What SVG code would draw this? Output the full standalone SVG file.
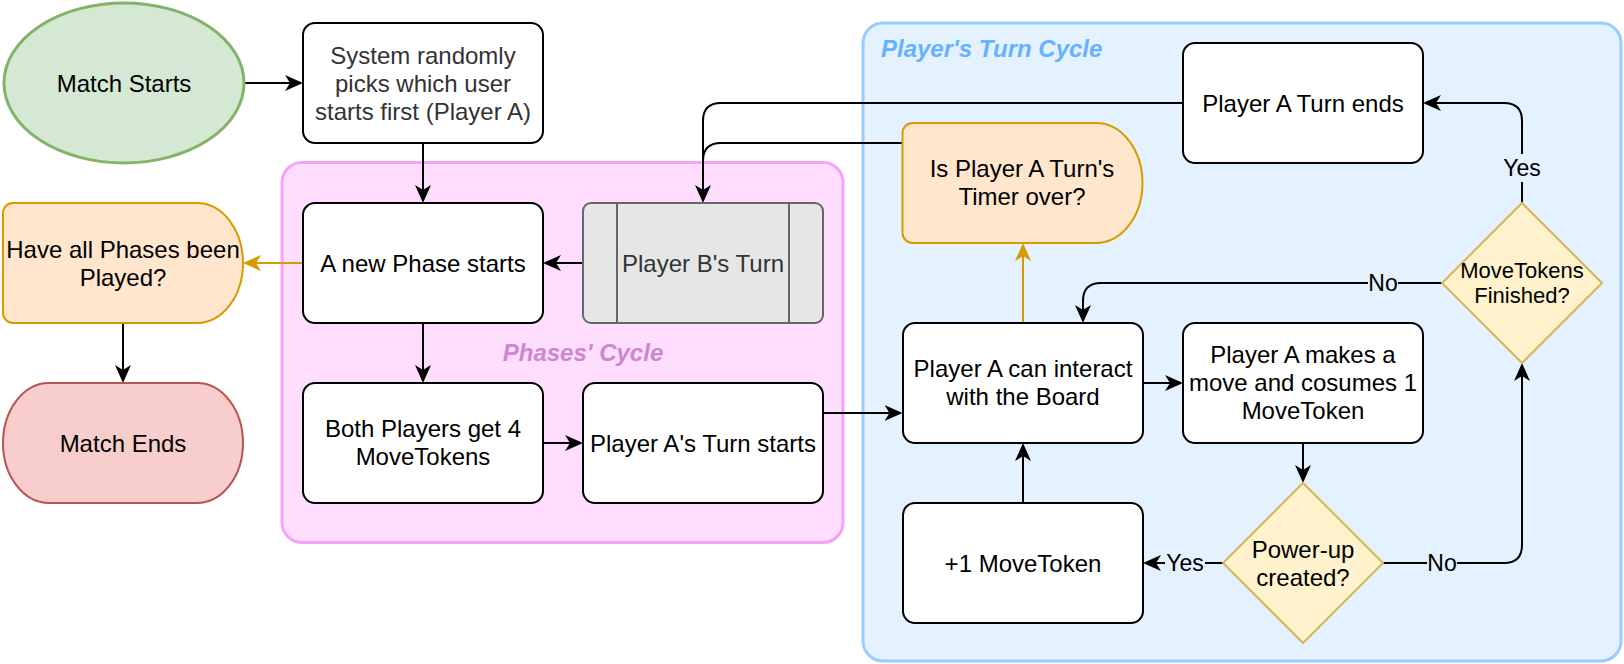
<svg xmlns="http://www.w3.org/2000/svg" width="1624" height="664" viewBox="0 0 1624 664">
<defs>
<style>
text{font-family:"Liberation Sans",Arial,Helvetica,sans-serif;font-size:24px;text-anchor:middle;fill:#000}
.box{fill:#fff;stroke:#000;stroke-width:2}
.c{fill:none;stroke:#000;stroke-width:2}
.co{fill:none;stroke:#d79b00;stroke-width:2}
.lbl{font-size:23px}
.lb{fill:#e4f1fe;stroke:none}
.dia{fill:#fff2cc;stroke:#d6b656;stroke-width:2}
.dly{fill:#ffe6cc;stroke:#d79b00;stroke-width:2}
.ttl{font-weight:bold;font-style:italic}
</style>
<marker id="ah" viewBox="0 -10 20 20" refX="5" refY="0" markerWidth="20" markerHeight="20" markerUnits="userSpaceOnUse" orient="auto"><path d="M18,0 L0,-8 L5,0 L0,8 Z" fill="#000"/></marker>
<marker id="aho" viewBox="0 -10 20 20" refX="5" refY="0" markerWidth="20" markerHeight="20" markerUnits="userSpaceOnUse" orient="auto"><path d="M18,0 L0,-8 L5,0 L0,8 Z" fill="#d79b00"/></marker>
</defs>
<rect x="0" y="0" width="1624" height="664" fill="#fff"/>

<g id="phases-cycle">
<rect x="282" y="162.5" width="561" height="380" rx="20" fill="#ffddff" stroke="#f5a4f5" stroke-width="3"/>
<text class="ttl" x="583" y="361" style="fill:#cc88cc">Phases' Cycle</text>
</g>
<g id="turn-cycle">
<rect x="863" y="23" width="758" height="638" rx="20" fill="#e4f1fe" stroke="#99ccff" stroke-width="3"/>
<text class="ttl" x="881" y="57" style="text-anchor:start;fill:#66b2ff">Player's Turn Cycle</text>
</g>

<g id="connectors">
<path class="c" d="M244,83 H290" marker-end="url(#ah)"/>
<path class="c" d="M423,143 V190" marker-end="url(#ah)"/>
<path class="co" d="M302,263 H256" marker-end="url(#aho)"/>
<path class="c" d="M123,323 V370" marker-end="url(#ah)"/>
<path class="c" d="M423,323 V370" marker-end="url(#ah)"/>
<path class="c" d="M543,443 H570" marker-end="url(#ah)"/>
<path class="c" d="M583,263 H556" marker-end="url(#ah)"/>
<path class="c" d="M823,413 H889.5" marker-end="url(#ah)"/>
<path class="c" d="M1183,103 H721 Q703,103 703,121 V190" marker-end="url(#ah)"/>
<path class="c" d="M902.5,143 H721 Q703,143 703,161 V190"/>
<path class="co" d="M1023,323 V256" marker-end="url(#aho)"/>
<path class="c" d="M1143,383 H1170" marker-end="url(#ah)"/>
<path class="c" d="M1303,443 V470" marker-end="url(#ah)"/>
<path class="c" d="M1223,563 H1156" marker-end="url(#ah)"/>
<path class="c" d="M1023,503 V456" marker-end="url(#ah)"/>
<path class="c" d="M1383,563 H1504 Q1522,563 1522,545 V376" marker-end="url(#ah)"/>
<path class="c" d="M1522,203 V121 Q1522,103 1504,103 H1436" marker-end="url(#ah)"/>
<path class="c" d="M1442,283 H1101 Q1083,283 1083,301 V310" marker-end="url(#ah)"/>
<rect class="lb" x="1502" y="154" width="40" height="28"/>
<text class="lbl" x="1522" y="176">Yes</text>
<rect class="lb" x="1368" y="270" width="30" height="26"/>
<text class="lbl" x="1383" y="291">No</text>
<rect class="lb" x="1165" y="550" width="40" height="26"/>
<text class="lbl" x="1185" y="571">Yes</text>
<rect class="lb" x="1427" y="550" width="30" height="26"/>
<text class="lbl" x="1442" y="571">No</text>
</g>

<g id="match-starts">
<ellipse cx="124" cy="83" rx="120" ry="80" fill="#d5e8d4" stroke="#82b366" stroke-width="3"/>
<text x="124" y="92">Match Starts</text>
</g>
<g id="system-picks">
<rect class="box" x="303" y="23" width="240" height="120" rx="12"/>
<text style="fill:#333"><tspan x="423" y="64">System randomly</tspan><tspan x="423" y="92">picks which user</tspan><tspan x="423" y="120">starts first (Player A)</tspan></text>
</g>
<g id="new-phase">
<rect class="box" x="303" y="203" width="240" height="120" rx="12"/>
<text x="423" y="272">A new Phase starts</text>
</g>
<g id="player-b-turn">
<rect x="583" y="203" width="240" height="120" rx="8" fill="#e6e6e6" stroke="#666" stroke-width="2"/>
<path d="M617,203 V323 M789,203 V323" stroke="#666" stroke-width="2" fill="none"/>
<text x="703" y="272" style="fill:#333">Player B's Turn</text>
</g>
<g id="both-players">
<rect class="box" x="303" y="383" width="240" height="120" rx="12"/>
<text><tspan x="423" y="437">Both Players get 4</tspan><tspan x="423" y="465">MoveTokens</tspan></text>
</g>
<g id="player-a-turn">
<rect class="box" x="583" y="383" width="240" height="120" rx="12"/>
<text x="703" y="452">Player A's Turn starts</text>
</g>
<g id="all-phases-played">
<path class="dly" d="M13,203 H197 A46,60 0 0 1 197,323 H13 A10,10 0 0 1 3,313 V213 A10,10 0 0 1 13,203 Z"/>
<text><tspan x="123" y="258">Have all Phases been</tspan><tspan x="123" y="286">Played?</tspan></text>
</g>
<g id="match-ends">
<rect x="3" y="383" width="240" height="120" rx="46" ry="60" fill="#f8cecc" stroke="#b85450" stroke-width="2"/>
<text x="123" y="452">Match Ends</text>
</g>
<g id="turn-ends">
<rect class="box" x="1183" y="43" width="240" height="120" rx="12"/>
<text x="1303" y="112">Player A Turn ends</text>
</g>
<g id="timer-over">
<path class="dly" d="M912.5,123 H1096 A46.5,60 0 0 1 1096,243 H912.5 A10,10 0 0 1 902.5,233 V133 A10,10 0 0 1 912.5,123 Z"/>
<text><tspan x="1022" y="177">Is Player A Turn's</tspan><tspan x="1022" y="205">Timer over?</tspan></text>
</g>
<g id="interact-board">
<rect class="box" x="903" y="323" width="240" height="120" rx="12"/>
<text><tspan x="1023" y="377">Player A can interact</tspan><tspan x="1023" y="405">with the Board</tspan></text>
</g>
<g id="makes-move">
<rect class="box" x="1183" y="323" width="240" height="120" rx="12"/>
<text><tspan x="1303" y="363">Player A makes a</tspan><tspan x="1303" y="391">move and cosumes 1</tspan><tspan x="1303" y="419">MoveToken</tspan></text>
</g>
<g id="plus-one">
<rect class="box" x="903" y="503" width="240" height="120" rx="12"/>
<text x="1023" y="572">+1 MoveToken</text>
</g>
<g id="powerup-created">
<polygon class="dia" points="1303,483 1383,563 1303,643 1223,563"/>
<text><tspan x="1303" y="558">Power-up</tspan><tspan x="1303" y="586">created?</tspan></text>
</g>
<g id="movetokens-finished">
<polygon class="dia" points="1522,203 1602,283 1522,363 1442,283"/>
<text style="font-size:22px"><tspan x="1522" y="278">MoveTokens</tspan><tspan x="1522" y="303">Finished?</tspan></text>
</g>
</svg>
